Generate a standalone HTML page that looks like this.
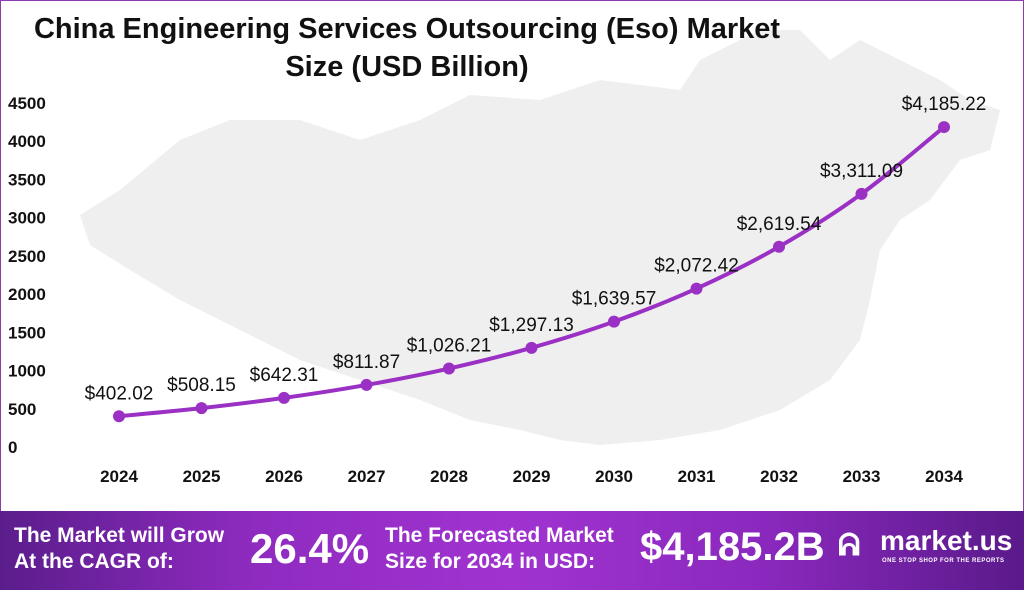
<!DOCTYPE html>
<html><head><meta charset="utf-8"><style>
body{margin:0;width:1024px;height:590px;overflow:hidden;background:#fff;font-family:"Liberation Sans",sans-serif;position:relative}
#frame{position:absolute;left:0;top:0;width:1022px;height:588px;border:1px solid #8a3bb0}
#title{position:absolute;left:0;top:10px;width:814px;text-align:center;font-weight:bold;font-size:29px;line-height:38px;color:#111}
#banner{position:absolute;left:0;top:511px;width:1024px;height:79px;background:linear-gradient(90deg,#5b1d8c 0%,#8f2bc0 25%,#a033d0 50%,#8a28bd 75%,#5a1a8a 100%);color:#fff;font-weight:bold}
.b{position:absolute}
</style></head><body>
<div id="frame"></div>
<svg id="chart" width="1024" height="511" style="position:absolute;left:0;top:0">
<path fill="#efefef" d="M80,215 L120,190 L180,140 L230,120 L300,120 L360,140 L420,120 L470,95 L540,100 L600,80 L680,90 L700,60 L760,30 L800,30 L830,60 L860,40 L900,60 L940,80 L970,100 L1000,110 L990,150 L960,160 L930,200 L900,220 L880,250 L870,300 L860,340 L830,380 L780,410 L720,430 L660,440 L600,445 L560,440 L520,430 L470,420 L420,400 L360,380 L300,360 L240,330 L180,300 L130,270 L90,245 Z"/>
</svg>
<div id="title">China Engineering Services Outsourcing (Eso) Market<br>Size (USD Billion)</div>
<div id="banner">
<div class="b" style="left:14px;top:12px;font-size:21px;line-height:26px">The Market will Grow<br>At the CAGR of:</div>
<div class="b" style="left:250px;top:14px;font-size:42px">26.4%</div>
<div class="b" style="left:385px;top:12px;font-size:21px;line-height:26px">The Forecasted Market<br>Size for 2034 in USD:</div>
<div class="b" style="left:640px;top:14px;font-size:40px">$4,185.2B</div>
<div class="b" style="left:838px;top:18px;font-size:30px">ᕱ</div>
<div class="b" style="left:880px;top:14px;font-size:28px">market.us</div>
<div class="b" style="left:882px;top:47px;font-size:6px;letter-spacing:.5px">ONE STOP SHOP FOR THE REPORTS</div>
</div>
<script>
const years=["2024","2025","2026","2027","2028","2029","2030","2031","2032","2033","2034"];
const values=[402.02,508.15,642.31,811.87,1026.21,1297.13,1639.57,2072.42,2619.54,3311.09,4185.22];
const labels=["$402.02","$508.15","$642.31","$811.87","$1,026.21","$1,297.13","$1,639.57","$2,072.42","$2,619.54","$3,311.09","$4,185.22"];
const yTicks=[0,500,1000,1500,2000,2500,3000,3500,4000,4500];
const svg=document.getElementById('chart');const NS="http://www.w3.org/2000/svg";
const x=i=>119+i*82.5;const y=v=>447-v*(344/4500);
function mk(t,a,txt){const e=document.createElementNS(NS,t);for(const k in a)e.setAttribute(k,a[k]);if(txt!==undefined)e.textContent=txt;svg.appendChild(e);return e;}
yTicks.forEach(v=>{const e=mk('text',{x:8,y:y(v)+6,'font-size':17,'font-weight':'bold',fill:'#111'},v);

});
years.forEach((yr,i)=>{const e=mk('text',{x:x(i),y:482,'font-size':17,'font-weight':'bold','text-anchor':'middle',fill:'#111'},yr);

});
const P=values.map((v,i)=>[x(i),y(v)]);
let d='M'+P[0][0]+','+P[0][1];
for(let i=0;i<P.length-1;i++){const p0=P[Math.max(0,i-1)],p1=P[i],p2=P[i+1],p3=P[Math.min(P.length-1,i+2)];
d+=' C'+(p1[0]+(p2[0]-p0[0])/6)+','+(p1[1]+(p2[1]-p0[1])/6)+' '+(p2[0]-(p3[0]-p1[0])/6)+','+(p2[1]-(p3[1]-p1[1])/6)+' '+p2[0]+','+p2[1];}
const l=mk('path',{d:d,fill:'none',stroke:'#9b30c4','stroke-width':4});


values.forEach((v,i)=>{const c=mk('circle',{cx:x(i),cy:y(v),r:6,fill:'#9b30c4'});


const t=mk('text',{x:x(i),y:y(v)-17,'font-size':19,'text-anchor':'middle',fill:'#111'},labels[i]);

});
</script>
</body></html>
